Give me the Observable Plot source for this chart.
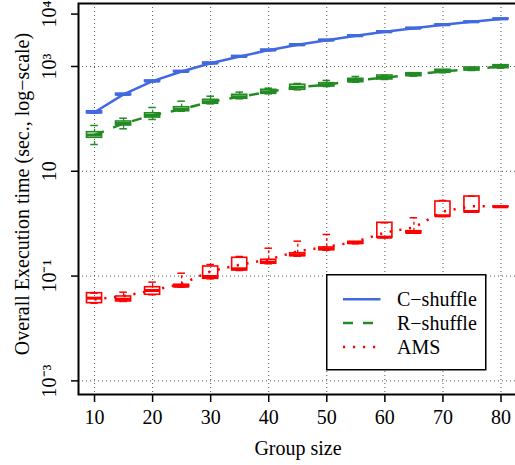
<!DOCTYPE html>
<html>
<head>
<meta charset="utf-8">
<script src="https://cdn.jsdelivr.net/npm/d3@7"></script>
<script src="https://cdn.jsdelivr.net/npm/@observablehq/plot@0.6"></script>
<style>
  html, body { margin: 0; padding: 0; overflow: hidden; background: #fff; }
  #wrap { position: relative; width: 515px; height: 465px; overflow: hidden; }
  #legend { position: absolute; left: 326px; top: 274px; }
</style>
</head>
<body>
<div id="wrap"><div id="chart"></div><div id="legend"></div></div>
<script>
// ---- data ----
const groupSizes = [10, 15, 20, 25, 30, 35, 40, 45, 50, 55, 60, 65, 70, 75, 80];

// C-shuffle
const cMed = [134, 293, 525, 803, 1156, 1550, 2050, 2590, 3170, 3850, 4590, 5370, 6240, 7120, 8090];
const cQ1  = [128, 283, 510, 782, 1125, 1512, 2005, 2535, 3105, 3775, 4505, 5275, 6130, 7000, 7960];
const cQ3  = [140, 303, 540, 824, 1188, 1590, 2095, 2645, 3235, 3925, 4675, 5465, 6350, 7240, 8220];
const cLo  = [128, 283, 510, 782, 1125, 1512, 2005, 2535, 3105, 3775, 4505, 5275, 6130, 7000, 7960];
const cHi  = [140, 303, 540, 824, 1188, 1590, 2095, 2645, 3235, 3925, 4675, 5465, 6350, 7240, 8220];
const cLine = [134, 293, 525, 803, 1156, 1550, 2050, 2590, 3170, 3850, 4590, 5370, 6240, 7120, 8090];

// R-shuffle
const rMed = [49.3, 81.6, 117, 153, 212, 264, 329, 403, 448, 541, 617, 703, 803, 896, 1000];
const rQ1  = [43.5, 74.8, 106, 140, 194, 242, 301, 359, 415, 501, 565, 653, 759, 839, 929];
const rQ3  = [55.7, 89.1, 128, 167, 231, 288, 359, 448, 480, 582, 673, 745, 865, 957, 1059];
const rLo  = [32.4, 64.7, 97.5, 140, 194, 242, 301, 359, 415, 501, 565, 653, 759, 839, 929];
const rHi  = [74.8, 103, 165, 218, 271, 324, 385, 474, 541, 644, 673, 745, 865, 957, 1059];
const rLine = [49.3, 81.6, 117, 153, 212, 264, 329, 403, 448, 541, 617, 703, 803, 896, 1000];

// AMS
const aMed = [0.0379, 0.0362, 0.0531, 0.0642, 0.0982, 0.1378, 0.1841, 0.2548, 0.3319, 0.4322, 0.552, 0.679, 1.415, 1.71, 2.10];
const aQ1  = [0.0304, 0.0328, 0.0440, 0.0614, 0.0887, 0.1279, 0.1718, 0.2397, 0.3121, 0.4134, 0.538, 0.659, 1.370, 1.655, 2.08];
const aQ3  = [0.0472, 0.0408, 0.0614, 0.0683, 0.1524, 0.2234, 0.2046, 0.2733, 0.3514, 0.4514, 1.040, 0.719, 2.65, 3.30, 2.12];
const aLo  = [0.0304, 0.0328, 0.0440, 0.0614, 0.0887, 0.1279, 0.1718, 0.2397, 0.3121, 0.4134, 0.538, 0.659, 1.370, 1.655, 2.08];
const aHi  = [0.0472, 0.0493, 0.0766, 0.1135, 0.1663, 0.2366, 0.3403, 0.4637, 0.6224, 0.4514, 1.040, 1.297, 2.77, 3.35, 2.12];
const aLine = [0.0357, 0.0415, 0.0531, 0.0710, 0.1236, 0.1644, 0.2075, 0.297, 0.361, 0.452, 0.679, 0.846, 1.71, 2.16, 2.13];

const seriesNames = ["C\u2212shuffle", "R\u2212shuffle", "AMS"];
const seriesColors = ["#4169E1", "#228B22", "#FF0000"];
const seriesDash = [null, "10,10", "2.2,7.6"];

const xTicks = [10, 20, 30, 40, 50, 60, 70, 80];
const yTicks = [1e4, 1e3, 1e1, 1e-1, 1e-3];
const yTickLabels = ["10\u2074", "10\u00B3", "10", "10\u207B\u00B9", "10\u207B\u00B3"];
const yGrid = [1e3, 1e1, 1e-1, 1e-3];

const xLabel = "Group size";
const yLabel = "Overall Execution time (sec., log\u2212scale)";

// ---- build rows ----
const stats = [
  {med: cMed, q1: cQ1, q3: cQ3, lo: cLo, hi: cHi, line: cLine},
  {med: rMed, q1: rQ1, q3: rQ3, lo: rLo, hi: rHi, line: rLine},
  {med: aMed, q1: aQ1, q3: aQ3, lo: aLo, hi: aHi, line: aLine}
];
const rowsBySeries = stats.map((s, k) => groupSizes.map((g, i) => ({
  g, series: seriesNames[k], med: s.med[i], q1: s.q1[i], q3: s.q3[i], lo: s.lo[i], hi: s.hi[i], line: s.line[i]
})));

const FONT = '"Liberation Serif", "Times New Roman", serif';
const boxHalf = 1.3, capHalf = 0.65;

const marks = [
  Plot.ruleY(yGrid, {stroke: "#555", strokeWidth: 1, strokeDasharray: "1,3"}),
  Plot.ruleX(xTicks, {stroke: "#555", strokeWidth: 1, strokeDasharray: "1,3"})
];
rowsBySeries.forEach((rows, k) => {
  const c = seriesColors[k];
  marks.push(
    Plot.ruleX(rows, {x: "g", y1: "q3", y2: "hi", stroke: c, strokeWidth: 1.3, strokeDasharray: "3,3"}),
    Plot.ruleX(rows, {x: "g", y1: "lo", y2: "q1", stroke: c, strokeWidth: 1.3, strokeDasharray: "3,3"}),
    Plot.ruleY(rows, {y: "hi", x1: d => d.g - capHalf, x2: d => d.g + capHalf, stroke: c, strokeWidth: 1.5}),
    Plot.ruleY(rows, {y: "lo", x1: d => d.g - capHalf, x2: d => d.g + capHalf, stroke: c, strokeWidth: 1.5}),
    Plot.rect(rows, {x1: d => d.g - boxHalf, x2: d => d.g + boxHalf, y1: "q1", y2: "q3", stroke: c, strokeWidth: 1.6, fill: "none"}),
    Plot.ruleY(rows, {y: "med", x1: d => d.g - boxHalf, x2: d => d.g + boxHalf, stroke: c, strokeWidth: 3})
  );
});
rowsBySeries.forEach((rows, k) => {
  marks.push(Plot.line(rows, {x: "g", y: "line", stroke: seriesColors[k], strokeWidth: 2.5,
    strokeDasharray: seriesDash[k] || undefined, strokeLinecap: "butt"}));
});
marks.push(
  Plot.frame({stroke: "#000", strokeWidth: 2}),
  Plot.axisX(xTicks, {tickSize: 8, tickPadding: 7, strokeWidth: 1.5, label: null}),
  Plot.axisY(yTicks, {tickSize: 7, strokeWidth: 1.5, tickFormat: () => "", label: null}),
  Plot.text(yTicks, {y: d => d, text: (d, i) => yTickLabels[i], frameAnchor: "left", dx: -23,
    rotate: -90, textAnchor: "middle", lineAnchor: "bottom", fill: "#000"}),
  Plot.text([xLabel], {text: d => d, frameAnchor: "bottom", dy: 60, lineAnchor: "bottom", fill: "#000"}),
  Plot.text([yLabel], {text: d => d, frameAnchor: "left", dx: -50, dy: -5, rotate: -90,
    textAnchor: "middle", lineAnchor: "bottom", fill: "#000"})
);

const chart = Plot.plot({
  width: 515,
  height: 465,
  marginLeft: 78,
  marginRight: -2,
  marginTop: 3,
  marginBottom: 71,
  style: {fontFamily: FONT, fontSize: "20px", color: "#000", background: "#fff", overflow: "hidden"},
  x: {domain: [7.24, 82.84], axis: null},
  y: {type: "log", domain: [Math.pow(10, -3.26), Math.pow(10, 4.202)], axis: null},
  marks
});
document.getElementById("chart").appendChild(chart);

// ---- legend ----
const lg = d3.select("#legend").append("svg").attr("width", 161).attr("height", 97)
  .style("font-family", FONT).style("font-size", "20px");
lg.append("rect").attr("x", 0.75).attr("y", 0.75).attr("width", 159).attr("height", 95)
  .attr("fill", "#fff").attr("stroke", "#000").attr("stroke-width", 1.5);
const rowY = [25.2, 49, 73];
seriesNames.forEach((name, k) => {
  lg.append("line").attr("x1", 17).attr("x2", 54.5).attr("y1", rowY[k]).attr("y2", rowY[k])
    .attr("stroke", seriesColors[k]).attr("stroke-width", 2.5)
    .attr("stroke-dasharray", seriesDash[k] ? seriesDash[k].replace("7.6", "7.8") : null);
  lg.append("text").attr("x", 71).attr("y", rowY[k] + 6.8).attr("fill", "#000").text(name);
});
</script>
</body>
</html>
